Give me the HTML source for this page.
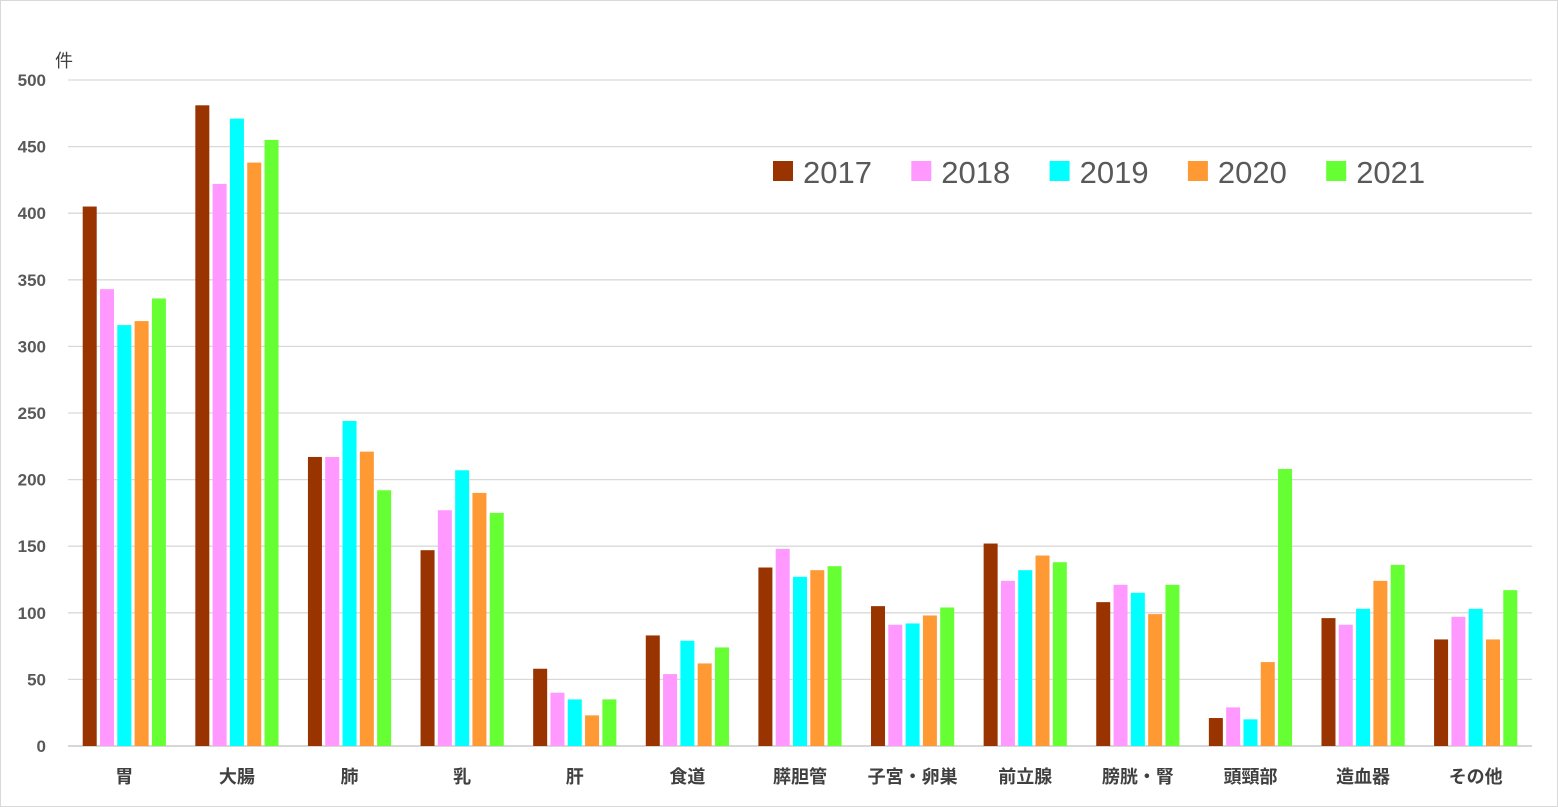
<!DOCTYPE html>
<html><head><meta charset="utf-8"><style>
html,body{margin:0;padding:0;background:#fff;}
svg{display:block;font-family:"Liberation Sans","Noto Sans CJK JP",sans-serif;}
</style></head><body>
<svg id="chart" width="1558" height="807" xmlns="http://www.w3.org/2000/svg">
<rect x="0.5" y="0.5" width="1557" height="806" fill="#fff" stroke="#d9d9d9"/>
<text x="55" y="67" font-size="18" fill="#404040">件</text>
<g id="grid"></g><g id="bars"></g><g id="labels"></g><g id="legend"></g>
</svg>
<script>
const categories=["胃","大腸","肺","乳","肝","食道","膵胆管","子宮・卵巣","前立腺","膀胱・腎","頭頸部","造血器","その他"];
const seriesNames=["2017","2018","2019","2020","2021"];
const v2017=[405,481,217,147,58,83,134,105,152,108,21,96,80];
const v2018=[343,422,217,177,40,54,148,91,124,121,29,91,97];
const v2019=[316,471,244,207,35,79,127,92,132,115,20,103,103];
const v2020=[319,438,221,190,23,62,132,98,143,99,63,124,80];
const v2021=[336,455,192,175,35,74,135,104,138,121,208,136,117];
const yTicks=[0,50,100,150,200,250,300,350,400,450,500];
const series=[v2017,v2018,v2019,v2020,v2021];
const colors=["#993300","#ff99ff","#00ffff","#ff9933","#66ff33"];
const NS="http://www.w3.org/2000/svg";
const x0=68,x1=1532,y0=746,y1=80,yMax=500;
const yS=v=>y0-(v/yMax)*(y0-y1);
const bw=(x1-x0)/categories.length;
const xC=i=>x0+bw*(i+0.5);
function mk(t,a,p){const e=document.createElementNS(NS,t);for(const k in a)e.setAttribute(k,a[k]);p.appendChild(e);return e;}
const grid=document.getElementById('grid'),bars=document.getElementById('bars'),labels=document.getElementById('labels'),legend=document.getElementById('legend');
yTicks.forEach(t=>{
  const l=mk('line',{x1:x0,x2:x1,y1:yS(t),y2:yS(t),stroke:t===0?'#bfbfbf':'#d9d9d9','stroke-width':1.3},grid);
  
  
  const tx=mk('text',{x:46,y:yS(t)+6,'text-anchor':'end','font-size':17,'font-weight':'bold',fill:'#595959'},labels);
  tx.textContent=t;
  
  
});
const barW=14,step=17.3;
categories.forEach((c,i)=>{
  series.forEach((s,j)=>{
    const x=xC(i)-2*step+j*step-barW/2;
    const r=mk('rect',{x:x,y:yS(s[i]),width:barW,height:y0-yS(s[i]),fill:colors[j]},bars);
    
    
  });
  const tx=mk('text',{x:xC(i),y:783,'text-anchor':'middle','font-size':18,'font-weight':'bold',fill:'#404040'},labels);
  tx.textContent=c;
  
  
});
seriesNames.forEach((n,j)=>{
  const lx=773+j*138.3;
  const r=mk('rect',{x:lx,y:161,width:20,height:20,fill:colors[j]},legend);
  
  
  const tx=mk('text',{x:lx+30,y:183,'font-size':31,fill:'#595959'},legend);
  tx.textContent=n;
  
  
});
</script>
</body></html>
